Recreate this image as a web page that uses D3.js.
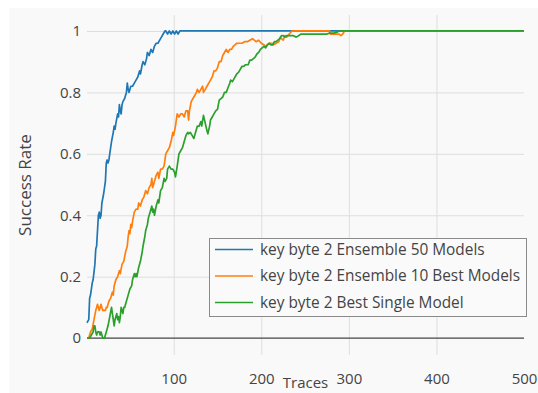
<!DOCTYPE html>
<html>
<head>
<meta charset="utf-8">
<script src="https://cdn.jsdelivr.net/npm/d3@7/dist/d3.min.js"></script>
<style>
  html, body { margin: 0; padding: 0; background: #ffffff; }
  svg { display: block; }
  text { font-family: "Open Sans", sans-serif; fill: #444444; }
</style>
</head>
<body>
<svg id="chart" width="538" height="393"></svg>
<script>
// Success rate vs. number of traces, key byte 2
const seriesNames = [
  "key byte 2 Ensemble 50 Models",
  "key byte 2 Ensemble 10 Best Models",
  "key byte 2 Best Single Model"
];
const seriesColors = ["#1f77b4", "#ff7f0e", "#2ca02c"];

const xTicks = [100, 200, 300, 400, 500];
const yTicks = [0, 0.2, 0.4, 0.6, 0.8, 1];
const yTickLabels = ["0", "0.2", "0.4", "0.6", "0.8", "1"];

// [traces, success rate]
const ensemble50 = [
  [1,0.05],[3,0.06],[4,0.13],[5,0.14],[7,0.18],[8,0.19],[10,0.24],[11,0.29],[12,0.30],
  [14,0.40],[15,0.41],[16,0.39],[17,0.40],[18,0.44],[20,0.47],[22,0.51],[23,0.57],
  [24,0.58],[25,0.57],[26,0.58],[28,0.62],[29,0.64],[31,0.67],[32,0.69],[33,0.68],
  [34,0.70],[36,0.73],[37,0.72],[38,0.76],[39,0.74],[40,0.73],[41,0.76],[42,0.77],
  [44,0.78],[46,0.80],[47,0.83],[48,0.81],[49,0.80],[51,0.82],[53,0.82],[55,0.83],
  [57,0.84],[59,0.85],[61,0.87],[62,0.86],[64,0.89],[65,0.90],[67,0.89],[69,0.91],
  [70,0.93],[72,0.92],[74,0.94],[76,0.93],[78,0.95],[80,0.96],[82,0.96],[84,0.97],
  [86,0.98],[88,0.99],[90,1.0],[91,1.0],[93,0.99],[95,1.0],[97,0.99],[99,1.0],
  [101,0.99],[103,1.0],[105,0.99],[107,1.0],[500,1.0]
];

const ensemble10 = [
  [1,0.0],[3,0.0],[5,0.02],[7,0.03],[9,0.06],[11,0.09],[12,0.10],[13,0.11],[14,0.10],
  [15,0.09],[16,0.10],[17,0.11],[18,0.10],[19,0.09],[20,0.09],[22,0.09],[23,0.10],
  [24,0.10],[26,0.12],[28,0.13],[30,0.15],[31,0.14],[32,0.17],[33,0.18],[34,0.19],
  [36,0.20],[38,0.22],[39,0.21],[41,0.24],[43,0.25],[45,0.28],[47,0.30],[48,0.33],
  [49,0.35],[50,0.34],[51,0.37],[52,0.36],[53,0.38],[55,0.41],[57,0.42],[59,0.42],
  [60,0.44],[62,0.43],[64,0.45],[66,0.46],[68,0.48],[70,0.47],[72,0.49],[74,0.50],
  [75,0.52],[76,0.49],[78,0.51],[80,0.53],[82,0.54],[83,0.52],[85,0.55],[87,0.55],
  [89,0.56],[90,0.58],[91,0.60],[93,0.61],[95,0.62],[97,0.64],[99,0.67],[100,0.66],
  [102,0.69],[104,0.73],[106,0.72],[108,0.73],[110,0.73],[112,0.72],[114,0.74],
  [116,0.74],[117,0.71],[118,0.74],[120,0.77],[122,0.78],[124,0.79],[126,0.80],
  [127,0.81],[129,0.80],[131,0.81],[133,0.82],[134,0.80],[136,0.81],[138,0.82],
  [140,0.83],[142,0.84],[144,0.85],[146,0.87],[148,0.87],[150,0.88],[152,0.90],
  [154,0.90],[156,0.92],[158,0.93],[160,0.94],[162,0.93],[164,0.94],[166,0.94],
  [168,0.95],[170,0.955],[172,0.96],[175,0.96],[178,0.96],[181,0.965],[184,0.965],
  [187,0.97],[190,0.975],[192,0.97],[194,0.965],[197,0.97],[200,0.96],[203,0.955],
  [205,0.95],[207,0.955],[210,0.96],[212,0.96],[214,0.955],[217,0.96],[220,0.965],
  [222,0.98],[223,0.975],[225,0.97],[227,0.985],[229,0.98],[232,0.99],[235,1.0],
  [278,1.0],[279,0.99],[283,0.99],[286,0.99],[289,0.99],[291,0.985],[293,0.99],
  [295,1.0],[500,1.0]
];

const bestSingle = [
  [1,0.0],[4,0.0],[6,0.01],[8,0.02],[9,0.04],[10,0.04],[11,0.02],[12,0.01],[13,0.02],
  [15,0.02],[16,0.01],[17,0.02],[18,0.01],[19,0.0],[21,0.0],[22,0.01],[23,0.02],
  [25,0.04],[27,0.07],[29,0.10],[30,0.08],[31,0.06],[32,0.04],[33,0.06],[35,0.08],
  [36,0.06],[37,0.07],[38,0.05],[39,0.07],[40,0.10],[41,0.09],[42,0.08],[43,0.10],
  [44,0.10],[46,0.12],[48,0.14],[50,0.16],[52,0.17],[53,0.19],[55,0.21],[56,0.20],
  [57,0.21],[58,0.20],[60,0.23],[62,0.25],[64,0.28],[65,0.30],[67,0.33],[68,0.35],
  [70,0.37],[71,0.39],[72,0.40],[74,0.42],[75,0.43],[76,0.41],[77,0.42],[78,0.40],
  [80,0.43],[82,0.45],[83,0.44],[85,0.48],[87,0.49],[89,0.52],[90,0.51],[92,0.52],
  [93,0.55],[95,0.56],[97,0.55],[99,0.55],[101,0.54],[102,0.525],[104,0.56],[106,0.60],
  [108,0.61],[110,0.62],[112,0.64],[114,0.66],[116,0.67],[117,0.665],[119,0.67],
  [121,0.66],[123,0.65],[125,0.67],[127,0.69],[129,0.69],[131,0.705],[132,0.69],
  [134,0.725],[136,0.70],[138,0.675],[139,0.665],[141,0.69],[142,0.71],[144,0.72],
  [146,0.73],[148,0.74],[150,0.745],[152,0.775],[154,0.78],[156,0.785],[158,0.80],
  [160,0.80],[162,0.815],[164,0.83],[165,0.84],[167,0.835],[169,0.845],[172,0.86],
  [174,0.865],[176,0.875],[178,0.885],[180,0.885],[182,0.89],[185,0.89],[187,0.905],
  [189,0.905],[191,0.91],[193,0.915],[195,0.925],[197,0.93],[199,0.94],[201,0.945],
  [203,0.95],[205,0.945],[207,0.955],[209,0.96],[211,0.955],[213,0.955],[215,0.965],
  [217,0.965],[219,0.97],[221,0.975],[223,0.985],[225,0.985],[227,0.98],[229,0.985],
  [232,0.985],[236,0.985],[240,0.98],[243,0.985],[245,0.99],[248,0.99],[251,0.99],
  [260,0.99],[270,0.99],[275,0.99],[278,0.993],[283,0.993],[287,0.997],[289,1.0],
  [500,1.0]
];

const seriesData = [ensemble50, ensemble10, bestSingle];

const svg = d3.select("#chart");
const W = 538, H = 393;

// page panel
svg.append("rect")
  .attr("x", 9).attr("y", 8).attr("width", W - 9).attr("height", H - 8)
  .attr("fill", "#f9f9f9");

const plot = { left: 87, right: 524, top: 15, bottom: 355 };

const x = d3.scaleLinear().domain([1, 500]).range([plot.left, plot.right]);
const y = d3.scaleLinear().domain([-0.055, 1.052]).range([plot.bottom, plot.top]);

// vertical grid
svg.append("g")
  .attr("transform", `translate(0,${plot.bottom})`)
  .call(d3.axisBottom(x).tickValues(xTicks.slice(0, -1))
        .tickSize(-(plot.bottom - plot.top)).tickFormat(""))
  .call(g => g.select(".domain").remove())
  .call(g => g.selectAll("line").attr("stroke", "#dedede").attr("stroke-width", 1));

// horizontal grid
svg.append("g")
  .attr("transform", `translate(${plot.left},0)`)
  .call(d3.axisLeft(y).tickValues(yTicks.filter(v => v !== 0))
        .tickSize(-(plot.right - plot.left)).tickFormat(""))
  .call(g => g.select(".domain").remove())
  .call(g => g.selectAll("line").attr("stroke", "#dedede").attr("stroke-width", 1));

// zero line
svg.append("line")
  .attr("x1", x(1)).attr("x2", x(500))
  .attr("y1", y(0)).attr("y2", y(0))
  .attr("stroke", "#444444").attr("stroke-width", 1.2);

// series
const line = d3.line().x(d => x(d[0])).y(d => y(d[1]));
svg.append("g").selectAll("path")
  .data(seriesData)
  .join("path")
  .attr("d", line)
  .attr("fill", "none")
  .attr("stroke", (d, i) => seriesColors[i])
  .attr("stroke-width", 1.7)
  .attr("stroke-linejoin", "round");

// x tick labels
svg.append("g")
  .attr("transform", `translate(0,${plot.bottom})`)
  .call(d3.axisBottom(x).tickValues(xTicks).tickSize(0).tickPadding(18))
  .call(g => g.select(".domain").remove())
  .call(g => g.selectAll("text")
    .style("font-family", "'Open Sans', sans-serif")
    .style("font-size", "15px").attr("fill", "#444444"));

// y tick labels
svg.append("g")
  .attr("transform", `translate(${plot.left},0)`)
  .call(d3.axisLeft(y).tickValues(yTicks).tickSize(0).tickPadding(6)
        .tickFormat((d, i) => yTickLabels[i]))
  .call(g => g.select(".domain").remove())
  .call(g => g.selectAll("text")
    .style("font-family", "'Open Sans', sans-serif")
    .style("font-size", "15px").attr("fill", "#444444"));

// axis titles
svg.append("text")
  .attr("x", (plot.left + plot.right) / 2).attr("y", 388)
  .attr("text-anchor", "middle")
  .style("font-size", "15px")
  .text("Traces");

svg.append("text")
  .attr("transform", `translate(31,${(plot.top + plot.bottom) / 2}) rotate(-90)`)
  .attr("text-anchor", "middle")
  .style("font-size", "17px")
  .text("Success Rate");

// legend
const legend = svg.append("g");
legend.append("rect")
  .attr("x", 209.5).attr("y", 238.5).attr("width", 317).attr("height", 78)
  .attr("fill", "#fafafa").attr("stroke", "#8a8a8a").attr("stroke-width", 1);

const rows = legend.selectAll("g.row")
  .data(seriesNames)
  .join("g")
  .attr("class", "row")
  .attr("transform", (d, i) => `translate(215,${249.5 + i * 26.5})`);

rows.append("line")
  .attr("x1", 0).attr("x2", 38)
  .attr("stroke", (d, i) => seriesColors[i]).attr("stroke-width", 1.7);

rows.append("text")
  .attr("x", 45).attr("dy", "0.35em")
  .style("font-size", "15.4px")
  .text(d => d);
</script>
</body>
</html>
